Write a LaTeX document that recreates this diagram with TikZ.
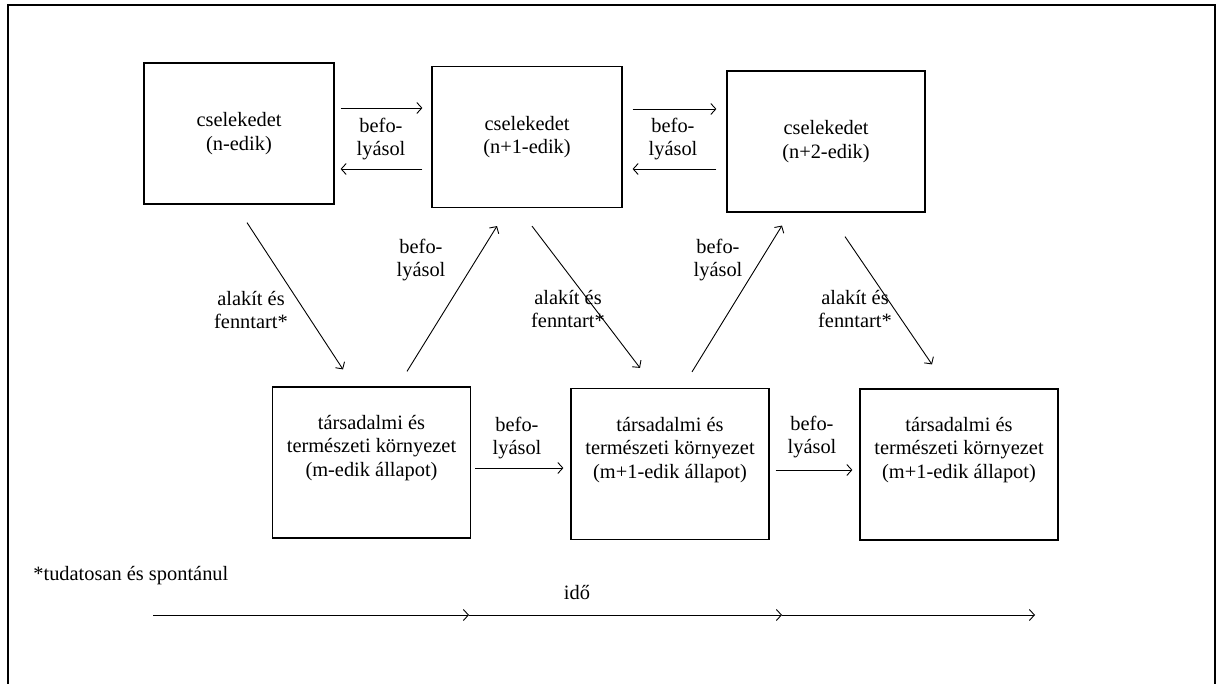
\documentclass[tikz,border=0pt]{standalone}
\usepackage{fontspec}
\setmainfont{Liberation Serif}
\usetikzlibrary{arrows.meta}

\begin{document}
\begin{tikzpicture}[x=0.5pt, y=-0.5pt,
	every node/.style={font=\fontsize{10.2}{11.7}\selectfont},
	actbox/.style={draw, line width=0.6pt, rectangle, inner sep=0pt, minimum width=95pt, minimum height=70.5pt, align=center},
	envbox/.style={draw, line width=0.6pt, rectangle, inner sep=0pt, minimum width=99pt, minimum height=75.5pt},
	boxtxt/.style={inner sep=0pt, align=center},
	lbl/.style={inner sep=0pt, align=center},
	arr/.style={line width=0.45pt, -{Straight Barb[length=2.5pt, width=5.5pt]}}]
	\useasboundingbox (0,0) rectangle (1223,684);

	% frame
	\draw[line width=0.75pt] (8,684) -- (8,5) -- (1215,5) -- (1215,684);

	% actions
	\node[actbox] (b1) at (239,133.5) {cselekedet\\(n-edik)};
	\node[actbox] (b2) at (527,137) {cselekedet\\(n+1-edik)};
	\node[actbox, minimum width=99pt] (b3) at (826,141.5) {cselekedet\\(n+2-edik)};

	% environment states
	\node[envbox] (e1) at (371.5,462.5) {};
	\node[envbox] (e2) at (670,464) {};
	\node[envbox] (e3) at (959,464.5) {};
	\node[boxtxt] (e1t) at ([yshift=7.25pt]e1.center) {társadalmi és\\természeti környezet\\(m-edik állapot)};
	\node[boxtxt] (e2t) at ([yshift=7pt]e2.center) {társadalmi és\\természeti környezet\\(m+1-edik állapot)};
	\node[boxtxt] (e3t) at ([yshift=7.25pt]e3.center) {társadalmi és\\természeti környezet\\(m+1-edik állapot)};

	% top row
	\draw[arr, shorten <=3pt, shorten >=4.5pt] ([yshift=12.75pt]b1.east) -- ([yshift=14.5pt]b2.west);
	\draw[arr, shorten <=4.5pt, shorten >=3pt] ([yshift=-16pt]b2.west) -- ([yshift=-17.75pt]b1.east);
	\draw[arr, shorten <=5pt, shorten >=5pt] ([yshift=14pt]b2.east) -- ([yshift=16.25pt]b3.west);
	\draw[arr, shorten <=5pt, shorten >=5pt] ([yshift=-13.75pt]b3.west) -- ([yshift=-16pt]b2.east);
	\node[lbl] (l1) at (381,139) {befo-\\lyásol};
	\node[lbl] (l2) at (673,139) {befo-\\lyásol};

	% bottom row
	\draw[arr, shorten <=2pt, shorten >=3.5pt] ([yshift=-2.75pt]e1.east) -- ([yshift=-2pt]e2.west);
	\draw[arr, shorten <=3pt, shorten >=3.5pt] ([yshift=-3pt]e2.east) -- ([yshift=-2.75pt]e3.west);
	\node[lbl] (l3) at (517,438) {befo-\\lyásol};
	\node[lbl] (l4) at (812,437) {befo-\\lyásol};

	% diagonals
	\draw[arr] ([shift={(8,18)}]b1.south) -- ([shift={(-28.5,-17)}]e1.north);
	\draw[arr] ([shift={(35.5,-15)}]e1.north) -- ([shift={(-30,18)}]b2.south);
	\draw[arr] ([shift={(5,18)}]b2.south) -- ([shift={(-30,-20)}]e2.north);
	\draw[arr] ([shift={(22,-16)}]e2.north) -- ([shift={(-44,13)}]b3.south);
	\draw[arr] ([shift={(19,24)}]b3.south) -- ([shift={(-27,-24)}]e3.north);
	\node[lbl] (d1) at (251,310) {alakít és\\fenntart*};
	\node[lbl] (d2) at (421,260) {befo-\\lyásol};
	\node[lbl] (d3) at (568,309) {alakít és\\fenntart*};
	\node[lbl] (d4) at (718,260) {befo-\\lyásol};
	\node[lbl] (d5) at (855,309) {alakít és\\fenntart*};

	% footnote and time axis
	\node[lbl, anchor=west] (note) at (33,576) {*tudatosan és spontánul};
	\node[lbl] (ido) at (577,593) {idő};
	\coordinate (t0) at (153,615);
	\coordinate (t1) at (469,615);
	\coordinate (t2) at (782,615);
	\coordinate (t3) at (1035,615);
	\draw[arr] (t0) -- (t1);
	\draw[arr] (t1) -- (t2);
	\draw[arr] (t2) -- (t3);
\end{tikzpicture}
\end{document}
